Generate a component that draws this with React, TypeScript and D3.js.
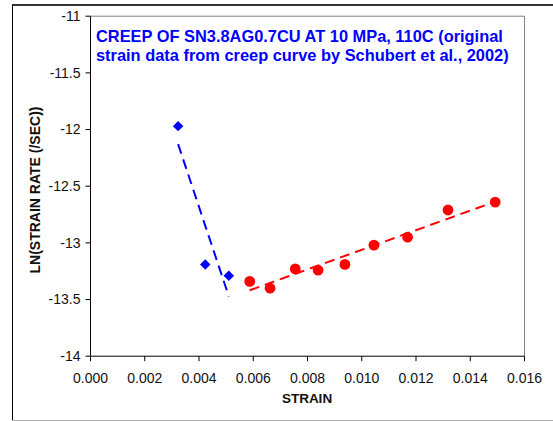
import React from "react";
import * as d3 from "d3";

// Primary-creep points (blue diamonds) and secondary-creep points (red circles)
const primaryStrain = [0.00323, 0.00423, 0.0051];
const primaryLnRate = [-11.97, -13.19, -13.29];
const secondaryStrain = [0.00587, 0.00662, 0.00755, 0.00839, 0.00938, 0.01045, 0.01169, 0.01318, 0.01492];
const secondaryLnRate = [-13.34, -13.4, -13.23, -13.24, -13.19, -13.02, -12.95, -12.71, -12.64];

const xTicks = [0, 0.002, 0.004, 0.006, 0.008, 0.01, 0.012, 0.014, 0.016];
const yTicks = [-11, -11.5, -12, -12.5, -13, -13.5, -14];

const titleLines = [
  "CREEP OF SN3.8AG0.7CU AT 10 MPa, 110C (original",
  "strain data from creep curve by Schubert et al., 2002)",
];

const W = 553;
const H = 421;
const plot = { left: 90.5, right: 524.5, top: 16.2, bottom: 356.2 };
const font = "'Liberation Sans', Arial, Helvetica, sans-serif";

// Ordinary least-squares line through a set of points
function linearFit(xs: number[], ys: number[]) {
  const mx = d3.mean(xs) as number;
  const my = d3.mean(ys) as number;
  let sxy = 0;
  let sxx = 0;
  xs.forEach((x, i) => {
    sxy += (x - mx) * (ys[i] - my);
    sxx += (x - mx) * (x - mx);
  });
  const slope = sxy / sxx;
  const intercept = my - slope * mx;
  return (x: number) => intercept + slope * x;
}

export default function App() {
  const x = d3.scaleLinear().domain([0, 0.016]).range([plot.left, plot.right]);
  const y = d3.scaleLinear().domain([-14, -11]).range([plot.bottom, plot.top]);

  const fitP = linearFit(primaryStrain, primaryLnRate);
  const fitS = linearFit(secondaryStrain, secondaryLnRate);

  const pExt = d3.extent(primaryStrain) as [number, number];
  const sExt = d3.extent(secondaryStrain) as [number, number];
  const segment = d3.line<[number, number]>().x((d) => x(d[0])).y((d) => y(d[1]));

  const diamond = d3.symbol().type(d3.symbolDiamond2).size(70)() as string;

  return (
    <svg
      width={W}
      height={H}
      style={{ position: "absolute", left: 0, top: 0, background: "#fff" }}
      fontFamily={font}
    >
      {/* chart frame */}
      <line x1={12} y1={5} x2={W} y2={5} stroke="#333" strokeWidth={2} />
      <line x1={12.5} y1={5} x2={12.5} y2={420} stroke="#000" strokeWidth={1} />
      <line x1={12} y1={420.5} x2={W} y2={420.5} stroke="#b0b0b0" strokeWidth={1} />

      {/* plot area border */}
      <line x1={plot.left} y1={plot.top} x2={plot.right} y2={plot.top} stroke="#808080" />
      <line x1={plot.right} y1={plot.top} x2={plot.right} y2={plot.bottom} stroke="#808080" />

      {/* axes */}
      <line x1={plot.left} y1={plot.top} x2={plot.left} y2={plot.bottom} stroke="#000" />
      <line x1={plot.left} y1={plot.bottom} x2={plot.right} y2={plot.bottom} stroke="#000" />

      {yTicks.map((t) => (
        <g key={"y" + t}>
          <line x1={plot.left - 5} x2={plot.left} y1={y(t)} y2={y(t)} stroke="#000" />
          <text x={plot.left - 10} y={y(t)} dy="0.35em" textAnchor="end" fontSize={14} fill="#111">
            {t}
          </text>
        </g>
      ))}
      {xTicks.map((t) => (
        <g key={"x" + t}>
          <line x1={x(t)} x2={x(t)} y1={plot.bottom} y2={plot.bottom + 5} stroke="#000" />
          <text x={x(t)} y={plot.bottom + 27} textAnchor="middle" fontSize={14} fill="#111">
            {d3.format(".3f")(t)}
          </text>
        </g>
      ))}

      <text x={307} y={403} textAnchor="middle" fontSize={13.5} fontWeight="bold" fill="#111">
        STRAIN
      </text>
      <text
        transform={`translate(40, 190) rotate(-90)`}
        textAnchor="middle"
        fontSize={14}
        fontWeight="bold"
        fill="#111"
      >
        LN(STRAIN RATE (/SEC))
      </text>

      {/* trend lines */}
      <path
        d={segment([
          [pExt[0], fitP(pExt[0])],
          [pExt[1], fitP(pExt[1])],
        ]) as string}
        fill="none"
        stroke="#0000ff"
        strokeWidth={2}
        strokeDasharray="10 6"
      />
      <path
        d={segment([
          [sExt[0], fitS(sExt[0])],
          [sExt[1], fitS(sExt[1])],
        ]) as string}
        fill="none"
        stroke="#ff0000"
        strokeWidth={2}
        strokeDasharray="10 6"
      />

      {/* markers */}
      {primaryStrain.map((s, i) => (
        <path key={"p" + i} d={diamond} transform={`translate(${x(s)},${y(primaryLnRate[i])})`} fill="#0000ff" />
      ))}
      {secondaryStrain.map((s, i) => (
        <circle key={"s" + i} cx={x(s)} cy={y(secondaryLnRate[i])} r={5.4} fill="#ff0000" />
      ))}

      {titleLines.map((t, i) => (
        <text key={"t" + i} x={96} y={42 + i * 19} fontSize={16.4} fontWeight="bold" fill="#0000ff">
          {t}
        </text>
      ))}
    </svg>
  );
}
